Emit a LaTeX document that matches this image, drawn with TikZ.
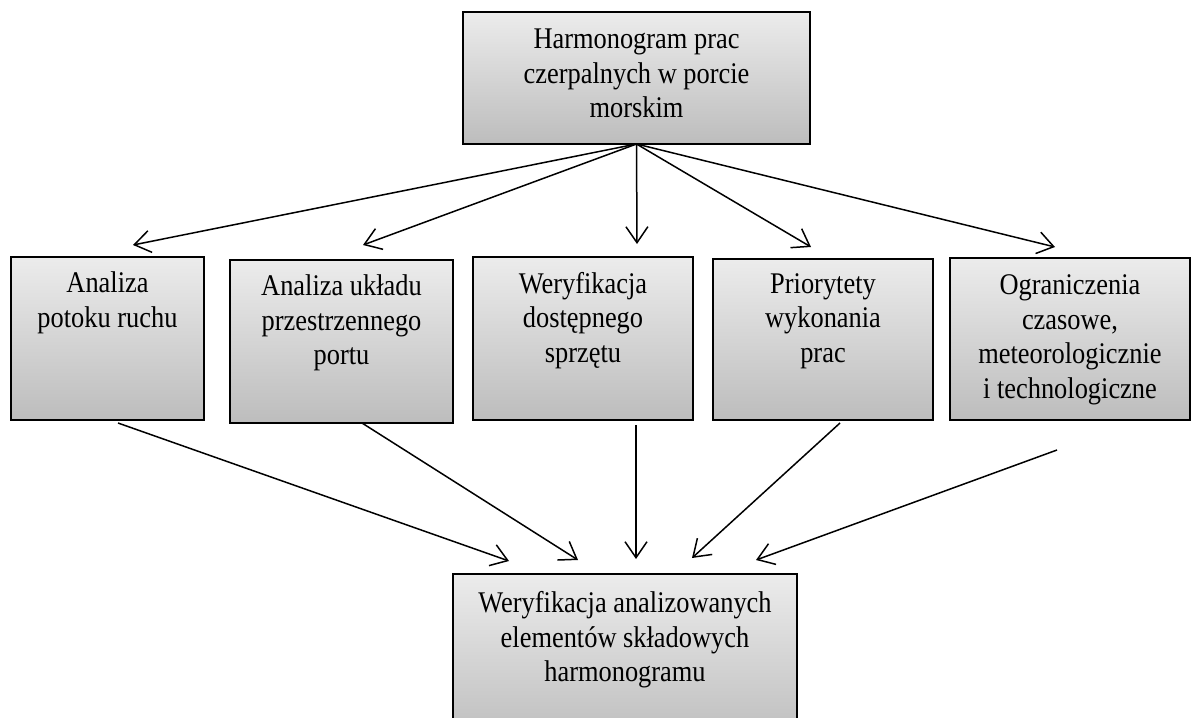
\documentclass[tikz,border=0pt]{standalone}
\usepackage{fontspec}
\setmainfont{Liberation Serif}[FakeStretch=0.88]
\usetikzlibrary{arrows.meta}
\tikzset{
  box/.style={draw=black, line width=1.6pt, top color=gray!15, bottom color=gray!52,
    inner sep=0pt, outer sep=0pt, anchor=north west},
  lbl/.style={anchor=north, align=center, inner sep=0pt,
    font=\fontsize{30}{34.5}\selectfont},
  link/.style={line width=1.5pt,
    -{Straight Barb[length=16pt,width=22pt,line width=1.5pt]}},
}
\begin{document}
\begin{tikzpicture}[x=1pt,y=-1pt]
\clip (0,0) rectangle (1193,717);

% boxes
\node[box, minimum width=347pt, minimum height=132pt] (top) at (463,12) {};
\node[box, minimum width=193pt, minimum height=163pt] (b1) at (11,257) {};
\node[box, minimum width=223pt, minimum height=163pt] (b2) at (230,260) {};
\node[box, minimum width=220pt, minimum height=163pt] (b3) at (473,257) {};
\node[box, minimum width=220pt, minimum height=161pt] (b4) at (713,259) {};
\node[box, minimum width=240pt, minimum height=162pt] (b5) at (950,258) {};
\node[box, minimum width=344pt, minimum height=170pt] (bot) at (453,574) {};

% box texts
\node[lbl] (ttop) at (636.5,29) {Harmonogram prac\\czerpalnych w porcie\\morskim};
\node[lbl] (t1) at (107.5,271.5) {Analiza\\potoku ruchu};
\node[lbl] (t2) at (341.5,274.5) {Analiza układu\\przestrzennego\\portu};
\node[lbl] (t3) at (583,272) {Weryfikacja\\dostępnego\\sprzętu};
\node[lbl] (t4) at (823,273) {Priorytety\\wykonania\\prac};
\node[lbl] (t5) at (1070,274.5) {Ograniczenia\\czasowe,\\meteorologicznie\\i technologiczne};
\node[lbl] (tbot) at (625,591.5) {Weryfikacja analizowanych\\elementów składowych\\harmonogramu};

% arrow ends below the top box
\coordinate (h1) at (133,245);
\coordinate (h2) at (363,245);
\coordinate (h3) at (637,244);
\coordinate (h4) at (811,247);
\coordinate (h5) at (1055,247);

% arrow starts and ends above the bottom box
\coordinate (s1) at (118,423);
\coordinate (s2) at (362,423);
\coordinate (s3) at (636,425);
\coordinate (s4) at (840,423);
\coordinate (s5) at (1057,450);
\coordinate (e1) at (509,561);
\coordinate (e2) at (578,560);
\coordinate (e3) at (636,559);
\coordinate (e4) at (692,558);
\coordinate (e5) at (756,560);

\foreach \i in {1,...,5} {
  \draw[link] (top.south) -- (h\i);
  \draw[link] (s\i) -- (e\i);
}
\end{tikzpicture}
\end{document}
